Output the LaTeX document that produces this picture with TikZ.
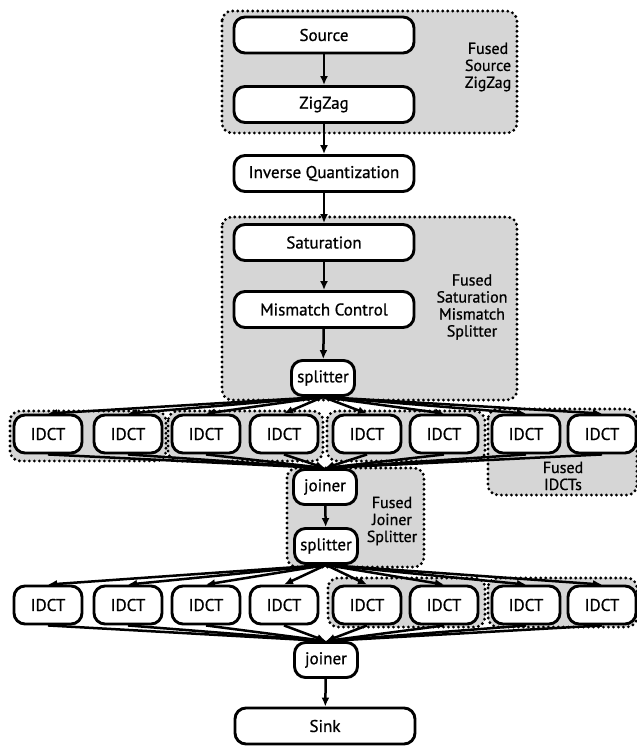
\documentclass[tikz,border=0pt]{standalone}
\usepackage{fontspec}
\setmainfont{PT Sans}[FakeBold=0.8]
\usetikzlibrary{arrows.meta}
\pgfdeclarelayer{groups}
\pgfdeclarelayer{edges}
\pgfsetlayers{groups,edges,main}
\tikzset{
  block/.style={draw, line width=2.9pt, fill=white, rounded corners=11pt,
    minimum width=180pt, minimum height=36pt, inner sep=0pt,
    font=\fontsize{17}{17}\selectfont},
  smallblock/.style={block, minimum width=63pt, minimum height=35pt},
  idct/.style={block, minimum width=68pt, minimum height=38pt},
  group/.style={fill=black!16, draw=black, line width=3.2pt,
    dash pattern=on 0pt off 5pt, line cap=round, rounded corners=10pt},
  glabel/.style={align=center, inner sep=0pt,
    font=\fontsize{16}{17}\selectfont},
  flow/.style={line width=2.5pt, -{Latex[length=9pt,width=8pt]}},
}
\begin{document}
\begin{tikzpicture}[x=1pt,y=-1pt]
\useasboundingbox (0,0) rectangle (637,748);

% pipeline nodes
\node[block] (src) at (324,35) {Source};
\node[block] (zz) at (324,104.5) {ZigZag};
\node[block] (iq) at (324,173.5) {Inverse Quantization};
\node[block] (sat) at (324,242.5) {Saturation};
\node[block] (mm) at (324,309.5) {Mismatch Control};
\node[smallblock] (sp1) at (323,378) {splitter};
\node[smallblock] (jn1) at (325,487) {joiner};
\node[smallblock] (sp2) at (326,546) {splitter};
\node[smallblock] (jn2) at (326,660) {joiner};
\node[block] (sink) at (325,726) {Sink};

% two rows of IDCT filters
\foreach \k/\x in {1/48,2/128,3/206,4/284,5/367,6/444,7/526,8/602}{
  \node[idct] (a\k) at (\x,434) {IDCT};
  \node[idct] (b\k) at (\x,605) {IDCT};
}

% group labels
\node[glabel] (lab1) at (488,67) {Fused\\Source\\ZigZag};
\node[glabel] (lab2) at (472,307) {Fused\\Saturation\\Mismatch\\Splitter};
\node[glabel] (lab3) at (563,476) {Fused\\IDCTs};
\node[glabel] (lab4) at (392,521) {Fused\\Joiner\\Splitter};

% connections, kept behind the filter boxes
\begin{pgfonlayer}{edges}
\draw[flow] (src) -- (zz);
\draw[flow] (zz) -- (iq);
\draw[flow] (iq) -- (sat);
\draw[flow] (sat) -- (mm);
\draw[flow] (mm) -- (sp1);
\draw[flow] (jn1) -- (sp2);
\draw[flow] (jn2) -- (sink);
\foreach \k in {1,...,8}{
  \draw[flow] (sp1.south) -- (a\k.north);
  \draw[flow] (a\k.south) -- (jn1.north);
  \draw[flow] (sp2.south) -- (b\k.north);
  \draw[flow] (b\k.south) -- (jn2.north);
}
\end{pgfonlayer}

% fused groups, shaded behind everything
\begin{pgfonlayer}{groups}
\draw[group] (222,11) rectangle (517,133);
\draw[group] (222,217) rectangle (517,400);
\draw[group] (10,411) rectangle (166,461);
\draw[group] (168,411) rectangle (323,461);
\draw[group] (327,411) rectangle (485,461);
\draw[group] (488,409) rectangle (637,495);
\draw[group] (287,468) rectangle (424,567);
\draw[group] (328,578) rectangle (485,627);
\draw[group] (488,578) rectangle (637,627);
\end{pgfonlayer}
\end{tikzpicture}
\end{document}
